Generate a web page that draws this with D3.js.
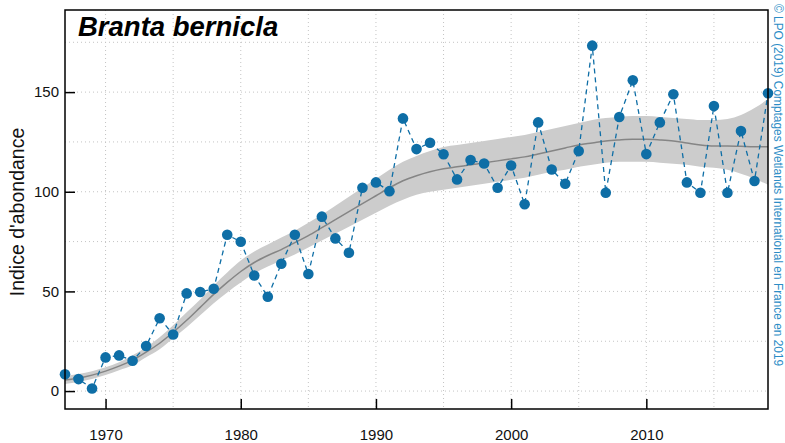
<!DOCTYPE html>
<html><head><meta charset="utf-8">
<script src="https://cdn.jsdelivr.net/npm/d3@7"></script>
<style>body{margin:0;background:#fff;} svg{display:block;font-family:"Liberation Sans",Arial,sans-serif;}</style>
</head><body><svg id="c" width="785" height="443"></svg>
<script>
const years = d3.range(1967, 2020);
const values = [8.4,6,1.3,16.9,17.9,15.2,22.6,36.5,28.4,49,49.7,51.3,78.4,74.9,58,47.3,63.9,78.4,58.7,87.5,76.6,69.4,102,104.7,100.3,136.8,121.4,124.6,118.8,106.2,115.9,114.2,102,113.2,93.7,134.8,111.2,104,120.4,173.3,99.5,137.5,155.9,118.9,134.8,148.9,104.7,99.5,143,99.5,130.5,105.4,149.4];
const trend = [5.5,6.5,8,10,12.5,15.5,19.5,24,29.5,35.5,42,48.5,54.5,60,64.5,68,71,74.5,78,82,86,90,94,98,102,105.5,108,110,111.5,112.5,113.5,114.5,115.5,116.5,117.5,119,120.5,122,123.5,124.5,125.5,126,126.3,126.3,126,125.5,124.5,123.5,123,123,122.8,122.6,122.6];
const trendLow = [3.5,4.5,6,8,10.5,13,17,21,26.5,32,38,44,49.5,54.5,59,62.5,65.5,68.5,72,75.5,79,82.5,86,89.5,93,96,98.5,100,101,102,103,104,105,106,107,108.5,110,111,112.5,113.5,114.5,115,115,115,114.5,114,113.5,112.5,112,111,109,106.5,103.5];
const trendHigh = [7.5,8.5,10,12,14.5,18,22,27,33,39.5,46,53,59.5,65.5,70,73.5,77,80.5,84.5,88.5,93,97.5,102,106.5,111,115,118,120.5,122.5,123.5,124.5,125.5,126.5,127.5,128.5,130,131.5,133,134.5,136,137,137.5,138,138,137.5,137,136.5,136,136,136.5,138.5,142,146.5];
const xTicks = [1970,1980,1990,2000,2010];
const yTicks = [0,50,100,150];
const xGrid = d3.range(1970, 2019, 5);
const yGrid = [25,50,75,100,125,150,175];
const title = "Branta bernicla";
const yLabel = "Indice d'abondance";
const credit = "© LPO (2019) Comptages Wetlands International en France en 2019";

const svg = d3.select("#c");
const L=65, R=768, T=10, B=409;
const x = d3.scaleLinear().domain([1967,2019]).range([L,R]);
const y = d3.scaleLinear().domain([-9,191.2]).range([B,T]);
const blue = "#0e6ea6";

const g = svg.append("g");
// grid
g.selectAll(".gx").data(xGrid).join("line").attr("x1",d=>x(d)).attr("x2",d=>x(d)).attr("y1",T).attr("y2",B)
 .attr("stroke","#c4c4c4").attr("stroke-width",1).attr("stroke-dasharray","1,3");
g.selectAll(".gy").data(yGrid.concat([0])).join("line").attr("y1",d=>y(d)).attr("y2",d=>y(d)).attr("x1",L).attr("x2",R)
 .attr("stroke","#c4c4c4").attr("stroke-width",1).attr("stroke-dasharray","1,3");

// band
const bandData = years.map((yr,i)=>({yr, lo:trendLow[i], hi:trendHigh[i], t:trend[i], v:values[i]}));
g.append("path").datum(bandData).attr("fill","#cccccc")
 .attr("d", d3.area().x(d=>x(d.yr)).y0(d=>y(d.lo)).y1(d=>y(d.hi)).curve(d3.curveMonotoneX));
g.append("path").datum(bandData).attr("fill","none").attr("stroke","#858585").attr("stroke-width",1.5)
 .attr("d", d3.line().x(d=>x(d.yr)).y(d=>y(d.t)).curve(d3.curveMonotoneX));

// data line
g.append("path").datum(bandData).attr("fill","none").attr("stroke",blue).attr("stroke-width",1.3)
 .attr("stroke-dasharray","5,4").attr("d", d3.line().x(d=>x(d.yr)).y(d=>y(d.v)));
g.selectAll(".pt").data(bandData).join("circle").attr("cx",d=>x(d.yr)).attr("cy",d=>y(d.v)).attr("r",5.3).attr("fill",blue);

// frame
svg.append("rect").attr("x",L).attr("y",T).attr("width",R-L).attr("height",B-T).attr("fill","none").attr("stroke","#000").attr("stroke-width",1.5);

// axes
const xa = svg.append("g").attr("transform",`translate(0,${B})`)
 .call(d3.axisBottom(x).tickValues(xTicks).tickFormat(d3.format("d")).tickSizeInner(-10).tickSizeOuter(0).tickPadding(20));
xa.select(".domain").remove();
xa.selectAll("line").attr("stroke","#000").attr("stroke-width",1.5);
xa.selectAll("text").attr("font-size","15px").attr("fill","#111").attr("font-family","Liberation Sans, Arial, sans-serif");
const ya = svg.append("g").attr("transform",`translate(${L},0)`)
 .call(d3.axisLeft(y).tickValues(yTicks).tickSizeInner(-10).tickSizeOuter(0).tickPadding(6));
ya.select(".domain").remove();
ya.selectAll("line").attr("stroke","#000").attr("stroke-width",1.5);
ya.selectAll("text").attr("font-size","15px").attr("fill","#111").attr("font-family","Liberation Sans, Arial, sans-serif");

// texts
svg.append("text").attr("x",78).attr("y",36).attr("font-size","27.5px").attr("font-weight","bold").attr("font-style","italic").attr("fill","#000").text(title);
svg.append("text").attr("transform","translate(24,212) rotate(-90)").attr("text-anchor","middle").attr("font-size","19.5px").attr("fill","#111").text(yLabel);
svg.append("text").attr("transform","translate(774,4) rotate(90)").attr("text-anchor","start").attr("font-size","11.9px").attr("fill","#2c8dc6").text(credit);
</script></body></html>
